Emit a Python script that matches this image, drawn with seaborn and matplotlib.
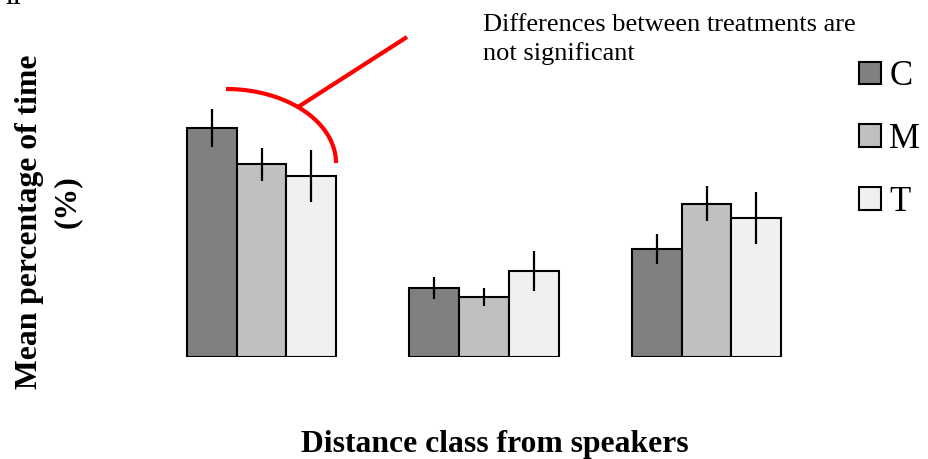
import numpy as np
import pandas as pd
import matplotlib
matplotlib.use("Agg")
import matplotlib.pyplot as plt
from matplotlib.lines import Line2D
import seaborn as sns

# Mean percentage of time spent in each distance class, per treatment
distance_classes = ["1", "2", "3"]
treatments = ["C", "M", "T"]
mean_c = [56.4, 17.0, 26.6]
mean_m = [47.5, 14.8, 37.7]
mean_t = [44.6, 21.2, 34.2]
err_c = [4.7, 2.7, 3.7]
err_m = [4.1, 2.2, 4.3]
err_t = [6.4, 4.9, 6.4]
bar_colors = ["#808080", "#c0c0c0", "#f0f0f0"]

means = {"C": mean_c, "M": mean_m, "T": mean_t}
errors = {"C": err_c, "M": err_m, "T": err_t}
df = pd.DataFrame(
    [(d, t, means[t][i]) for t in treatments for i, d in enumerate(distance_classes)],
    columns=["distance", "treatment", "pct"],
)

sns.set_style("white")
plt.rcParams["font.family"] = ["Liberation Serif", "DejaVu Serif"]
plt.rcParams["text.color"] = "black"

W, H = 929, 459
fig = plt.figure(figsize=(W / 100, H / 100), dpi=100)
ax = fig.add_axes([150.25 / W, 102 / H, 667.5 / W, 263.9 / H])

sns.barplot(
    data=df, x="distance", y="pct", hue="treatment", order=distance_classes,
    hue_order=treatments, palette=bar_colors, width=0.67, gap=0,
    edgecolor="black", linewidth=1.5, errorbar=None, ax=ax,
)

# standard-error whiskers centred on each bar
for t, container in zip(treatments, ax.containers):
    xs = [b.get_x() + b.get_width() / 2 for b in container]
    ax.errorbar(xs, means[t], yerr=errors[t], fmt="none", ecolor="black",
                elinewidth=1.6, capsize=0, zorder=5)

ax.set_xlim(-0.5, 2.5)
ax.set_ylim(0, 65)
ax.axis("off")

handles, labels = ax.get_legend_handles_labels()
ax.legend(handles, labels, loc="upper left",
          bbox_to_anchor=(859 / W, 1 - 60 / H), bbox_transform=fig.transFigure,
          frameon=False, fontsize=25, handlelength=0.62, handleheight=0.62,
          handletextpad=0.25, labelspacing=0.86, borderaxespad=0, borderpad=0,
          labelcolor="black")

# axis titles
fig.text(30 / W, 1 - 222 / H, "Mean percentage of time", rotation=90,
         ha="center", va="center", fontsize=22.8, fontweight="bold")
fig.text(67 / W, 1 - 202 / H, "(%)", rotation=90,
         ha="center", va="center", fontsize=22.8, fontweight="bold")
fig.text(494.5 / W, 7 / H, "Distance class from speakers",
         ha="center", va="baseline", fontsize=22.8, fontweight="bold")

# annotation: bracket over the first group with a pointer to the note
fig.text(483 / W, 1 - 60 / H, "Differences between treatments are\nnot significant",
         ha="left", va="baseline", fontsize=19, linespacing=1.36)
theta = np.linspace(np.pi / 2, 0, 60)
arc_x = 226 + 110 * np.cos(theta)
arc_y = 163 - 74 * np.sin(theta)
fig.add_artist(Line2D(arc_x / W, 1 - arc_y / H, transform=fig.transFigure,
                      color="red", lw=3, solid_capstyle="butt"))
fig.add_artist(Line2D(np.array([298, 407]) / W, 1 - np.array([107, 37]) / H,
                      transform=fig.transFigure, color="red", lw=3,
                      solid_capstyle="butt"))

# page number cut off at the top edge
fig.text(5 / W, 1 - 4 / H, "11", ha="left", va="baseline",
         fontsize=13, fontweight="bold")

fig.savefig("out.png", dpi=100)
